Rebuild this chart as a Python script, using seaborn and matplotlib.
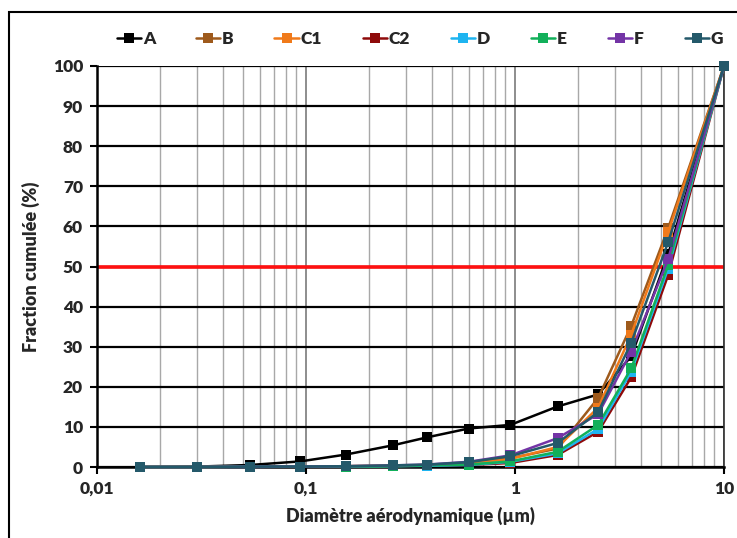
import matplotlib
matplotlib.use("Agg")
import matplotlib.pyplot as plt
from matplotlib.patches import Rectangle
from matplotlib.ticker import FixedLocator, FixedFormatter, LogLocator, NullFormatter
import seaborn as sns
import pandas as pd

# Aerodynamic diameters (µm) of the impactor stages
diametres = [0.016, 0.030, 0.054, 0.094, 0.155, 0.26, 0.38, 0.60, 0.95, 1.6, 2.5, 3.6, 5.4, 10]

# Cumulative fraction (%) per sample
serie_A = [0, 0.1, 0.5, 1.4, 3.1, 5.4, 7.4, 9.6, 10.5, 15.1, 18.1, 27.6, 53.0, 100]
serie_B = [0, 0, 0.1, 0.1, 0.2, 0.3, 0.5, 1.0, 2.2, 4.6, 17.2, 35.2, 59.5, 100]
serie_C1 = [0, 0, 0.1, 0.1, 0.2, 0.3, 0.5, 0.9, 2.0, 5.0, 14.8, 33.0, 58.5, 100]
serie_C2 = [0, 0, 0, 0.1, 0.1, 0.2, 0.3, 0.5, 1.0, 3.0, 8.8, 22.4, 47.8, 100]
serie_D = [0, 0, 0, 0.1, 0.1, 0.2, 0.3, 0.5, 1.3, 3.4, 9.5, 23.8, 49.4, 100]
serie_E = [0, 0, 0.1, 0.1, 0.1, 0.2, 0.4, 0.6, 1.4, 3.8, 10.5, 24.6, 50.3, 100]
serie_F = [0, 0, 0.1, 0.1, 0.2, 0.4, 0.6, 1.3, 2.9, 7.2, 13.2, 28.8, 51.8, 100]
serie_G = [0, 0, 0.1, 0.1, 0.2, 0.4, 0.6, 1.2, 2.7, 6.0, 13.7, 31.0, 56.0, 100]

noms = ["A", "B", "C1", "C2", "D", "E", "F", "G"]
series = [serie_A, serie_B, serie_C1, serie_C2, serie_D, serie_E, serie_F, serie_G]
couleurs = ["#000000", "#9E5A1C", "#F07A1A", "#8E0A0A", "#1EB4F0", "#12B05A", "#7434A6", "#24596A"]

x_ticks = [0.01, 0.1, 1, 10]
x_labels = ["0,01", "0,1", "1", "10"]
y_ticks = list(range(0, 101, 10))
seuil = 50

rows = []
for nom, vals in zip(noms, series):
    for d, v in zip(diametres, vals):
        rows.append({"d": d, "frac": v, "serie": nom})
df = pd.DataFrame(rows)

sns.set_theme(style="white")
plt.rcParams["font.family"] = ["Lato", "DejaVu Sans"]
plt.rcParams["font.weight"] = "bold"

fig = plt.figure(figsize=(7.37, 5.38), dpi=100)
ax = fig.add_axes([97 / 737, 1 - 467 / 538, (724 - 97) / 737, (467 - 66) / 538])

ax.set_xscale("log")
ax.set_xlim(0.01, 10)
ax.set_ylim(0, 100)

# grid: grey minor verticals, darker decade verticals, black horizontals
ax.xaxis.set_minor_locator(LogLocator(base=10, subs=range(2, 10)))
ax.xaxis.set_minor_formatter(NullFormatter())
ax.grid(which="minor", axis="x", color="#A8A8A8", lw=1.0, zorder=0)
ax.grid(which="major", axis="x", color="#7A7A7A", lw=1.2, zorder=0)
ax.grid(which="major", axis="y", color="#000000", lw=1.6, zorder=0)
ax.set_axisbelow(True)

ax.axhline(seuil, color="#FF1010", lw=2.6, zorder=1)

sns.lineplot(data=df, x="d", y="frac", hue="serie", hue_order=noms,
             palette=couleurs, marker="s", markersize=6.5, markeredgewidth=0,
             lw=1.8, sort=False, ax=ax, zorder=3, clip_on=False)

ax.xaxis.set_major_locator(FixedLocator(x_ticks))
ax.xaxis.set_major_formatter(FixedFormatter(x_labels))
ax.set_yticks(y_ticks)
ax.tick_params(axis="both", which="major", direction="out", length=5, width=1.5,
               color="black", labelsize=12.5, pad=5, bottom=True, left=True)
ax.tick_params(axis="x", which="minor", length=0)
for lab in ax.get_xticklabels() + ax.get_yticklabels():
    lab.set_fontweight("heavy")

for side in ["left", "bottom"]:
    ax.spines[side].set_color("black")
    ax.spines[side].set_linewidth(1.8)
ax.spines["right"].set_color("#303030")
ax.spines["right"].set_linewidth(1.2)
ax.spines["top"].set_visible(False)

ax.set_xlabel("Diamètre aérodynamique (µm)", fontsize=13, fontweight="heavy", labelpad=7)
ax.set_ylabel("Fraction cumulée (%)", fontsize=13, fontweight="heavy", labelpad=9)

handles, labels = ax.get_legend_handles_labels()
leg = ax.legend(handles, labels, ncol=8, loc="lower center",
                bbox_to_anchor=(0.515, 1.03), frameon=False, fontsize=12.5,
                handlelength=1.4, handletextpad=0.1, columnspacing=2.35,
                borderaxespad=0)
for t in leg.get_texts():
    t.set_fontweight("heavy")

# outer frame around the chart area
fig.add_artist(Rectangle((9 / 737, -0.1), 1.2, 1.1 - 12 / 538,
                         transform=fig.transFigure, fill=False,
                         edgecolor="black", lw=1.5))

fig.savefig("out.png", dpi=100)
